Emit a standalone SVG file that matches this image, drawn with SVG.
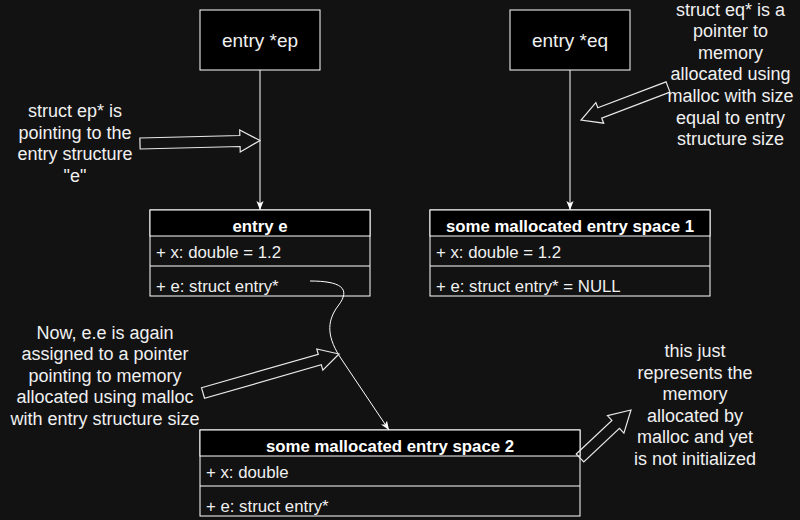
<svg xmlns="http://www.w3.org/2000/svg" width="800" height="520" viewBox="0 0 800 520">
<style>
.bg{fill:#121212}
.box{fill:#000;stroke:#fff;stroke-width:1}
.body{fill:#121212;stroke:#fff;stroke-width:1}
.div{stroke:#fff;stroke-width:1}
.big{font-family:"Liberation Sans",Arial,sans-serif;font-size:19px;fill:#f0f0f0;text-anchor:middle}
.hdr{font-family:"Liberation Sans",Arial,sans-serif;font-size:16.8px;font-weight:bold;fill:#fff;text-anchor:middle}
.row{font-family:"Liberation Sans",Arial,sans-serif;font-size:16.8px;fill:#f0f0f0}
.note{font-family:"Liberation Sans",Arial,sans-serif;font-size:18px;fill:#f0f0f0;text-anchor:middle}
.conn{fill:none;stroke:#fff;stroke-width:1}
.blk{fill:none;stroke:#e8e8e8;stroke-width:1.2;stroke-linejoin:miter}
</style>
<defs>
<marker id="ah" viewBox="0 0 10 8" refX="10" refY="4" markerWidth="9" markerHeight="7.5" markerUnits="userSpaceOnUse" orient="auto">
<path d="M0,0 L10,4 L0,8 L2.5,4 z" fill="#fff"/>
</marker>
</defs>
<rect class="bg" x="0" y="0" width="800" height="520"/>

<g id="ep">
<rect class="box" x="200" y="10" width="120" height="60"/>
<text class="big" x="260" y="46.5">entry *ep</text>
</g>
<g id="eq">
<rect class="box" x="510" y="10" width="120" height="60"/>
<text class="big" x="570" y="46.5">entry *eq</text>
</g>

<g id="entry-e">
<rect class="body" x="150" y="210" width="220" height="86"/>
<rect class="box" x="150" y="210" width="220" height="26"/>
<line class="div" x1="150" y1="266" x2="370" y2="266"/>
<text class="hdr" x="260" y="232">entry e</text>
<text class="row" x="156" y="257.5">+ x: double = 1.2</text>
<text class="row" x="156" y="291.5">+ e: struct entry*</text>
</g>

<g id="space1">
<rect class="body" x="430" y="210" width="280" height="86"/>
<rect class="box" x="430" y="210" width="280" height="26"/>
<line class="div" x1="430" y1="266" x2="710" y2="266"/>
<text class="hdr" x="570" y="232">some mallocated entry space 1</text>
<text class="row" x="436" y="257.5">+ x: double = 1.2</text>
<text class="row" x="436" y="291.5">+ e: struct entry* = NULL</text>
</g>

<g id="space2">
<rect class="body" x="200" y="430" width="380" height="86"/>
<rect class="box" x="200" y="430" width="380" height="26"/>
<line class="div" x1="200" y1="486" x2="580" y2="486"/>
<text class="hdr" x="390" y="452">some mallocated entry space 2</text>
<text class="row" x="206" y="477.5">+ x: double</text>
<text class="row" x="206" y="511.5">+ e: struct entry*</text>
</g>

<g id="connectors">
<line class="conn" x1="260" y1="70" x2="260" y2="210" marker-end="url(#ah)"/>
<line class="conn" x1="570" y1="70" x2="570" y2="210" marker-end="url(#ah)"/>
<path class="conn" d="M310,281 C340,281 352,288 338,306 C326,322 327,338 342,360 L389,430" marker-end="url(#ah)"/>
</g>

<g id="block-arrows">
<polygon class="blk" transform="translate(140,143.5) rotate(-1.43)" points="0,-5.5 100,-5.5 100,-11 120,0 100,11 100,5.5 0,5.5"/>
<polygon class="blk" transform="translate(668,87) rotate(159.2)" points="0,-5.5 73,-5.5 73,-11 93,0 73,11 73,5.5 0,5.5"/>
<polygon class="blk" transform="translate(203,393) rotate(-16.0)" points="0,-5.5 121.5,-5.5 121.5,-11 141.5,0 121.5,11 121.5,5.5 0,5.5"/>
<polygon class="blk" transform="translate(580,458) rotate(-43.26)" points="0,-5.5 49,-5.5 49,-12 70,0 49,12 49,5.5 0,5.5"/>
</g>

<g id="note-ep">
<text class="note" x="75" y="117">struct ep* is</text>
<text class="note" x="75" y="138.6">pointing to the</text>
<text class="note" x="75" y="160.2">entry structure</text>
<text class="note" x="75" y="181.8">"e"</text>
</g>
<g id="note-eq">
<text class="note" x="730.5" y="15.5">struct eq* is a</text>
<text class="note" x="730.5" y="37.1">pointer to</text>
<text class="note" x="730.5" y="58.7">memory</text>
<text class="note" x="730.5" y="80.3">allocated using</text>
<text class="note" x="730.5" y="101.9">malloc with size</text>
<text class="note" x="730.5" y="123.5">equal to entry</text>
<text class="note" x="730.5" y="145.1">structure size</text>
</g>
<g id="note-ee">
<text class="note" x="105" y="338.5">Now, e.e is again</text>
<text class="note" x="105" y="360.1">assigned to a pointer</text>
<text class="note" x="105" y="381.7">pointing to memory</text>
<text class="note" x="105" y="403.3">allocated using malloc</text>
<text class="note" x="105" y="424.9">with entry structure size</text>
</g>
<g id="note-malloc">
<text class="note" x="695" y="357">this just</text>
<text class="note" x="695" y="378.6">represents the</text>
<text class="note" x="695" y="400.2">memory</text>
<text class="note" x="695" y="421.8">allocated by</text>
<text class="note" x="695" y="443.4">malloc and yet</text>
<text class="note" x="695" y="465">is not initialized</text>
</g>
</svg>
